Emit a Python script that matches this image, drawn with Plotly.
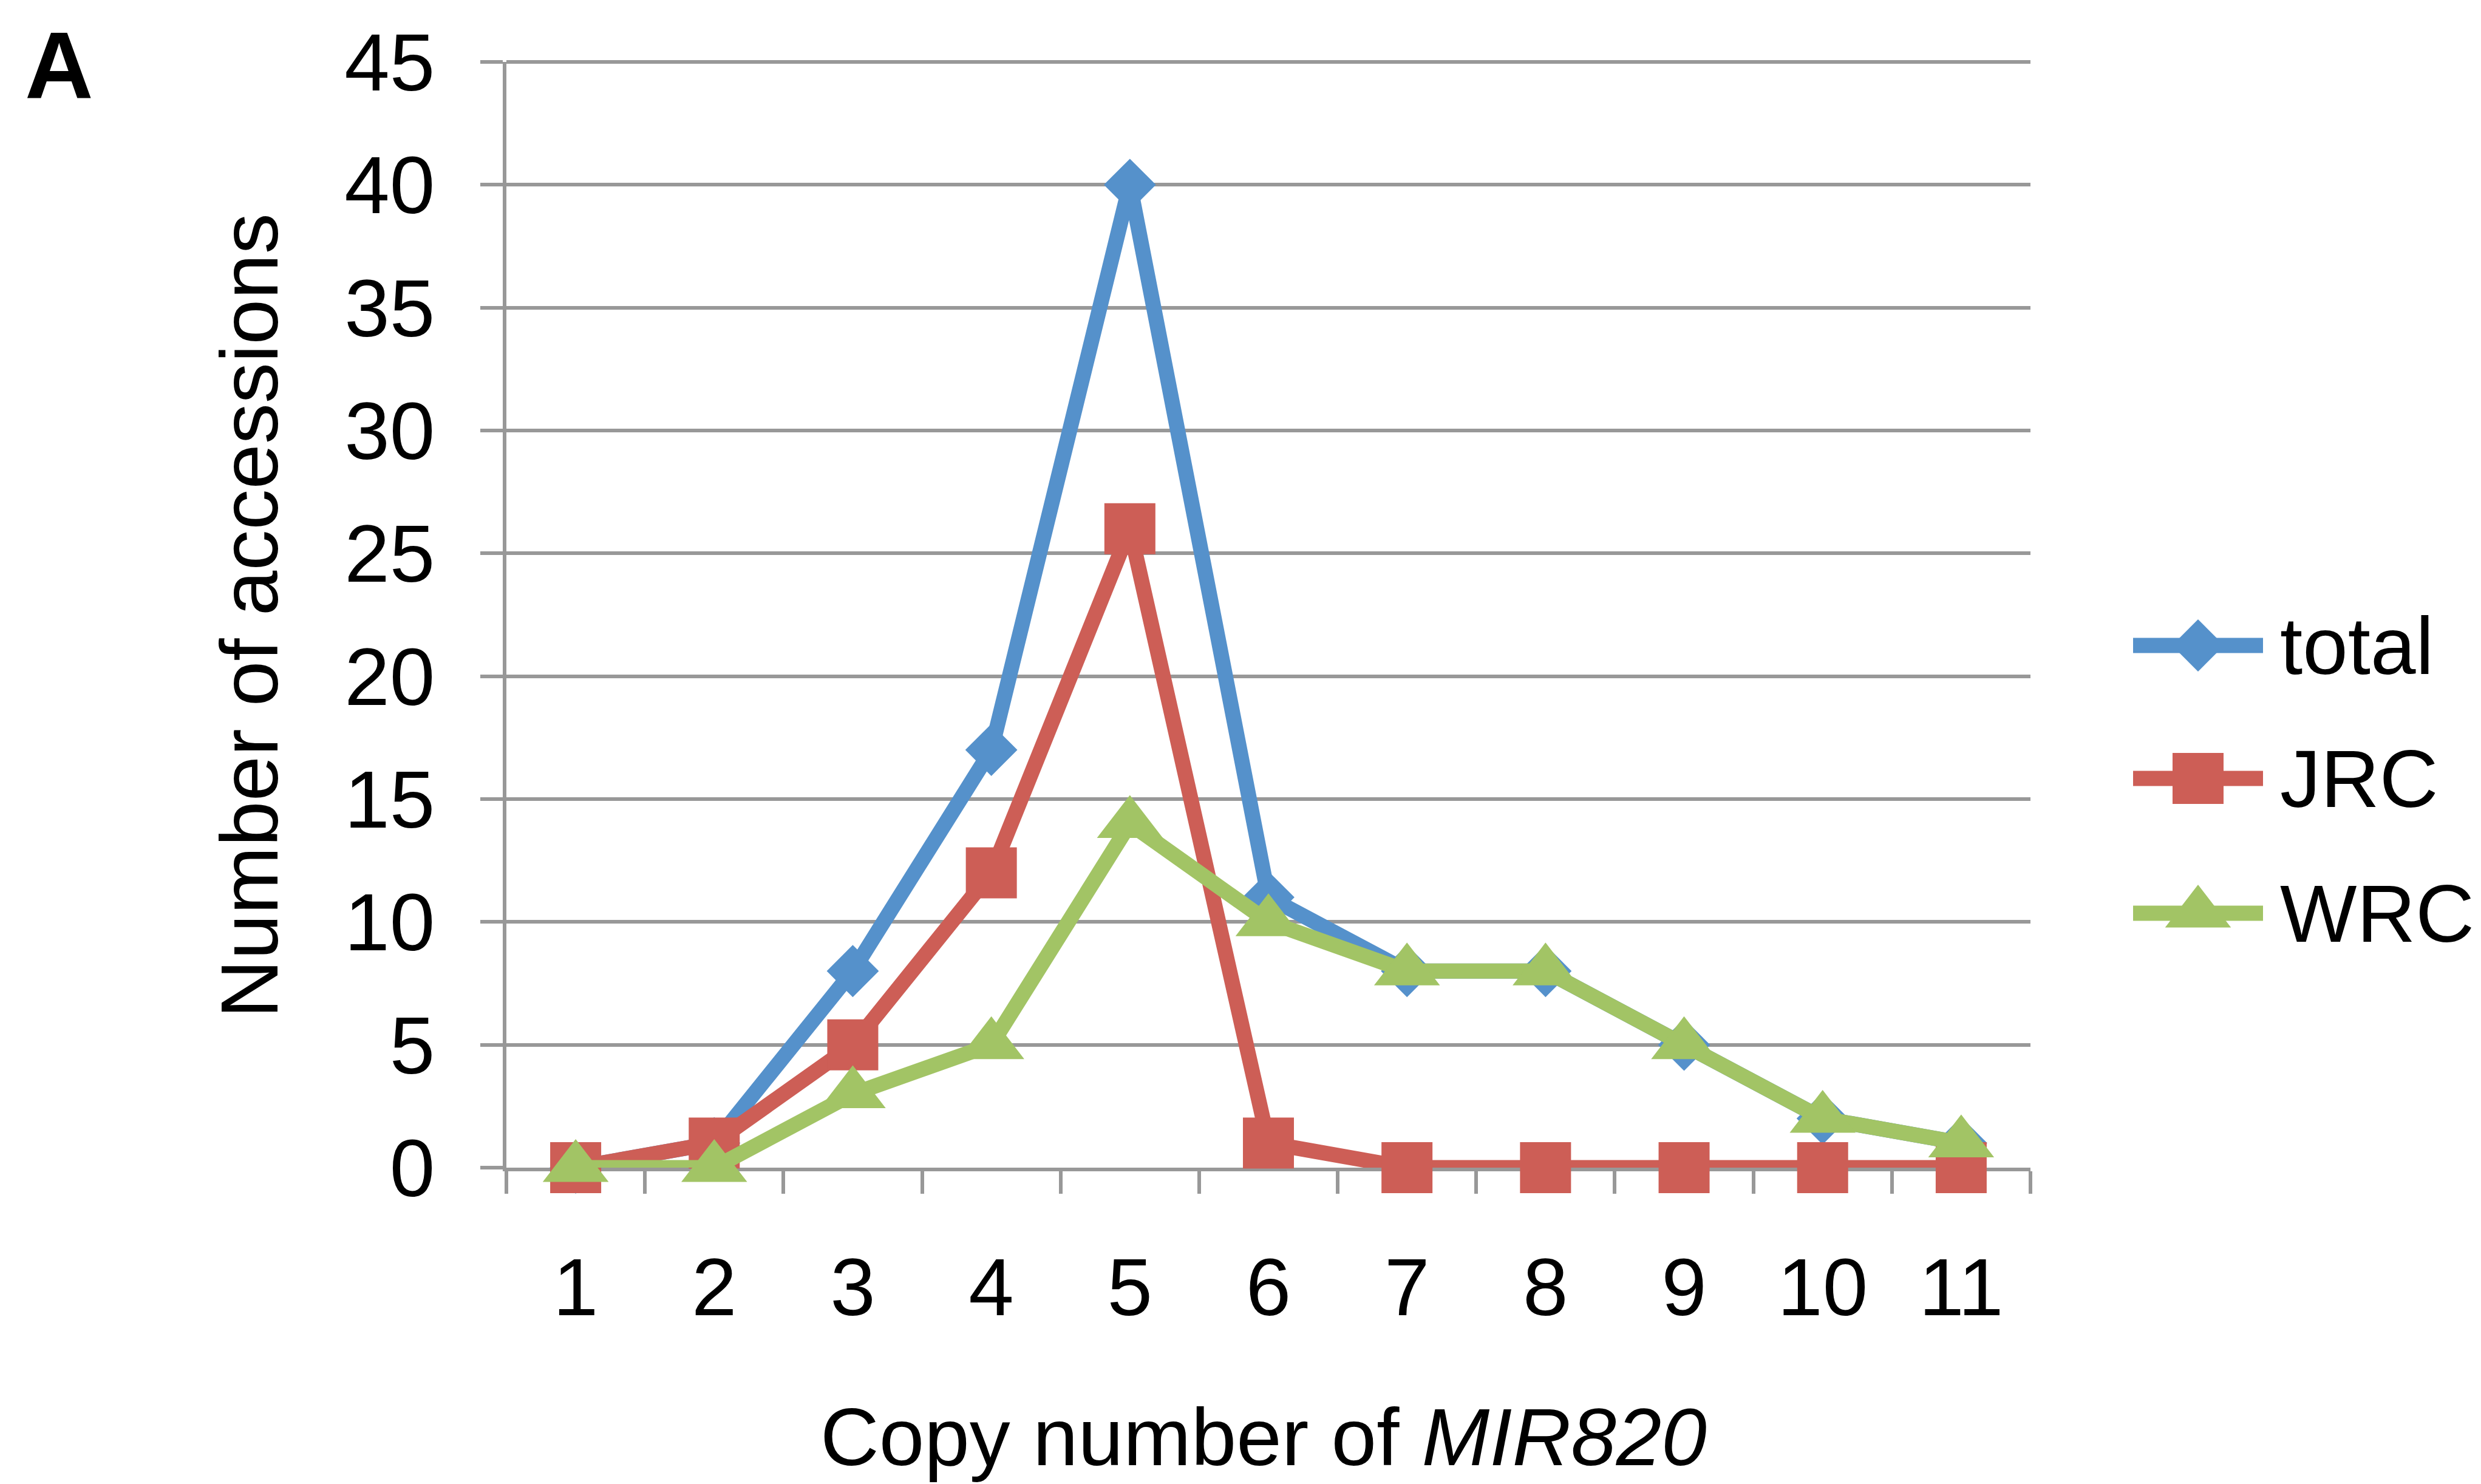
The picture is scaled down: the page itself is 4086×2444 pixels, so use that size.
import plotly.graph_objects as go

# Copy-number categories and accession counts per group
copy_numbers = [1, 2, 3, 4, 5, 6, 7, 8, 9, 10, 11]
total = [0, 1, 8, 17, 40, 11, 8, 8, 5, 2, 1]
jrc = [0, 1, 5, 12, 26, 1, 0, 0, 0, 0, 0]
wrc = [0, 0, 3, 5, 14, 10, 8, 8, 5, 2, 1]

series_names = ["total", "JRC", "WRC"]
series_values = [total, jrc, wrc]
series_colors = ["#5591CB", "#CD5E56", "#A2C465"]
series_symbols = ["diamond", "square", "triangle-up"]
series_sizes = [66, 84, 94]

y_ticks = [0, 5, 10, 15, 20, 25, 30, 35, 40, 45]

W, H = 4086, 2444
FONT = "Liberation Sans, Arial, sans-serif"
FS = 134
GRID = "#989898"
LINE_W = 25

# plot-area edges in pixels
x0_px, x1_px = 834, 3344
y_top_px, y_bot_px = 102, 1923

fig = go.Figure()

for name, vals, col, sym, sz in zip(series_names, series_values,
                                     series_colors, series_symbols, series_sizes):
    fig.add_trace(go.Scatter(
        x=copy_numbers, y=vals, name=name, mode="lines+markers",
        line=dict(color=col, width=LINE_W),
        marker=dict(symbol=sym, size=sz, color=col, line=dict(width=0)),
        cliponaxis=False, showlegend=False,
        xaxis="x", yaxis="y",
    ))

# legend keys drawn on a pixel-scaled overlay axis
legend_rows = [1063, 1282, 1504]
key_x0, key_x1, key_mid = 3513, 3727, 3620
for name, col, sym, sz, row in zip(series_names, series_colors,
                                   series_symbols, series_sizes, legend_rows):
    fig.add_trace(go.Scatter(
        x=[key_x0, key_x1], y=[row, row], mode="lines",
        line=dict(color=col, width=LINE_W), showlegend=False,
        xaxis="x2", yaxis="y2", hoverinfo="skip",
    ))
    fig.add_trace(go.Scatter(
        x=[key_mid], y=[row], mode="markers",
        marker=dict(symbol=sym, size=sz, color=col, line=dict(width=0)),
        cliponaxis=False, showlegend=False,
        xaxis="x2", yaxis="y2", hoverinfo="skip",
    ))
    fig.add_annotation(
        x=3753 / W, y=(H - row) / H, xref="paper", yref="paper",
        text=name, showarrow=False, xanchor="left", yanchor="middle",
        font=dict(family=FONT, size=FS, color="black"),
    )

fig.update_layout(
    width=W, height=H,
    margin=dict(l=0, r=0, t=0, b=0),
    paper_bgcolor="white", plot_bgcolor="rgba(0,0,0,0)",
    template="none",
    showlegend=False,
    xaxis=dict(
        domain=[x0_px / W, x1_px / W],
        range=[0.5, 11.5],
        tickmode="array", tickvals=copy_numbers,
        ticktext=[str(c) for c in copy_numbers],
        ticks="", showgrid=False, zeroline=False,
        showline=True, linecolor=GRID, linewidth=6,
        tickfont=dict(family=FONT, size=FS, color="black"),
        ticklabelstandoff=76,
        minor=dict(tickmode="array",
                   tickvals=[c - 0.5 for c in copy_numbers] + [copy_numbers[-1] + 0.5],
                   ticks="outside", ticklen=37, tickwidth=6, tickcolor=GRID,
                   showgrid=False),
        automargin=False, layer="below traces", fixedrange=True,
    ),
    yaxis=dict(
        domain=[(H - y_bot_px) / H, (H - y_top_px) / H],
        range=[0, 45],
        tickmode="array", tickvals=y_ticks,
        ticks="outside", ticklen=37, tickwidth=6, tickcolor=GRID,
        showgrid=True, gridcolor=GRID, gridwidth=6,
        zeroline=False, showline=True, linecolor=GRID, linewidth=6,
        tickfont=dict(family=FONT, size=FS, color="black"),
        ticklabelstandoff=48,
        automargin=False, layer="below traces", fixedrange=True,
    ),
    xaxis2=dict(domain=[0, 1], range=[0, W], visible=False, anchor="y2",
                fixedrange=True),
    yaxis2=dict(domain=[0, 1], range=[H, 0], visible=False, anchor="x2",
                fixedrange=True),
)

# gridline along the top edge of the plot area (unclipped)
fig.add_shape(
    type="line", xref="paper", yref="paper",
    x0=x0_px / W, x1=x1_px / W,
    y0=(H - y_top_px) / H, y1=(H - y_top_px) / H,
    line=dict(color=GRID, width=6), layer="below",
)

# axis titles and panel letter
fig.add_annotation(
    x=(x0_px + x1_px) / 2 / W - 0.002, y=(H - 2366) / H, xref="paper", yref="paper",
    text="Copy number of <i>MIR820</i>", showarrow=False,
    xanchor="center", yanchor="middle",
    font=dict(family=FONT, size=FS, color="black"),
)
fig.add_annotation(
    x=410 / W, y=(H - 1014) / H, xref="paper", yref="paper",
    text="Number of accessions", showarrow=False, textangle=-90,
    xanchor="center", yanchor="middle",
    font=dict(family=FONT, size=FS, color="black"),
)
fig.add_annotation(
    x=39 / W, y=(H - 107) / H, xref="paper", yref="paper",
    text="<b>A</b>", showarrow=False, xanchor="left", yanchor="middle",
    font=dict(family=FONT, size=156, color="black"),
)

fig.write_html("out.html")
